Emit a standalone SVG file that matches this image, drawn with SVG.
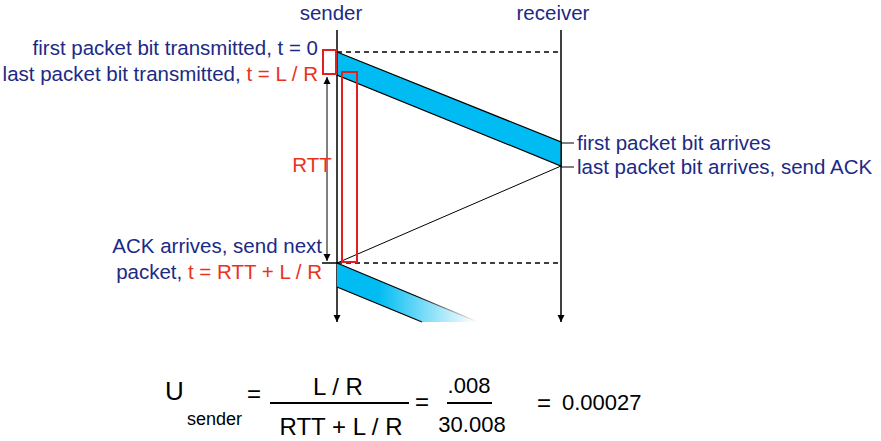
<svg xmlns="http://www.w3.org/2000/svg" width="881" height="441" viewBox="0 0 881 441">
<style>
text{font-family:"Liberation Sans",Arial,sans-serif;}
.lbl{font-size:20.5px;fill:#1c2a85;}
.red{fill:#e8321e;}
.ln{stroke:#000;stroke-width:1.5;fill:none;}
.thin{stroke:#000;stroke-width:1;fill:none;}
.dash{stroke:#000;stroke-width:1.3;stroke-dasharray:5,4;fill:none;}
.box{stroke:#e02020;stroke-width:2;fill:none;}
.fx{font-size:22px;fill:#000;}
.fr{font-size:24px;fill:#000;}
</style>
<defs>
<marker id="ah" viewBox="0 0 10 10" refX="10" refY="5" markerWidth="7" markerHeight="8" markerUnits="userSpaceOnUse" orient="auto-start-reverse"><path d="M0,0 L10,5 L0,10 z" fill="#000"/></marker>
<linearGradient id="fade" gradientUnits="userSpaceOnUse" x1="337" y1="0" x2="475" y2="0"><stop offset="0" stop-color="#00bcf2"/><stop offset="0.3" stop-color="#00bcf2"/><stop offset="1" stop-color="#fff"/></linearGradient>
<linearGradient id="fadeln" gradientUnits="userSpaceOnUse" x1="337" y1="0" x2="478" y2="0"><stop offset="0" stop-color="#000"/><stop offset="0.55" stop-color="#000"/><stop offset="1" stop-color="#fff"/></linearGradient>
</defs>

<g id="sender">
<text class="lbl" x="331" y="20" text-anchor="middle">sender</text>
<line class="ln" x1="337" y1="30" x2="337" y2="322" marker-end="url(#ah)"/>
</g>
<g id="receiver">
<text class="lbl" x="553" y="20" text-anchor="middle">receiver</text>
<line class="ln" x1="561" y1="30" x2="561" y2="322" marker-end="url(#ah)"/>
</g>

<g id="packet1">
<polygon points="337,52 561,142 561,166 337,75" fill="#00bcf2" stroke="#000" stroke-width="1.2"/>
</g>
<g id="packet2">
<polygon points="337,263 478,322 422,322 337,287" fill="url(#fade)"/>
<line x1="337" y1="263" x2="478" y2="322" stroke="url(#fadeln)" stroke-width="1.3"/>
<line x1="337" y1="287" x2="422" y2="322" stroke="url(#fadeln)" stroke-width="1.3"/>
</g>

<g id="connectors">
<line class="dash" x1="337" y1="52" x2="561" y2="52"/>
<line class="dash" x1="337" y1="263" x2="561" y2="263"/>
<line class="thin" x1="561" y1="166" x2="337" y2="263"/>
<line class="thin" x1="327" y1="77" x2="327" y2="261" marker-start="url(#ah)" marker-end="url(#ah)"/>
<line class="ln" x1="322" y1="263" x2="337" y2="263" stroke-width="2"/>
<line class="thin" x1="561" y1="143" x2="574" y2="143"/>
<line class="thin" x1="561" y1="167" x2="574" y2="167"/>
</g>

<g id="highlights">
<rect class="box" x="323" y="50" width="13" height="24"/>
<rect class="box" x="342" y="72" width="15" height="190"/>
</g>

<g id="labels">
<text class="lbl" x="318" y="55" text-anchor="end">first packet bit transmitted, t = 0</text>
<text class="lbl" x="318" y="81" text-anchor="end">last packet bit transmitted, <tspan class="red">t = L / R</tspan></text>
<text class="lbl red" x="312" y="172" text-anchor="middle">RTT</text>
<text class="lbl" x="322" y="253" text-anchor="end">ACK arrives, send next</text>
<text class="lbl" x="322" y="279" text-anchor="end">packet, <tspan class="red">t = RTT + L / R</tspan></text>
<text class="lbl" x="577" y="150">first packet bit arrives</text>
<text class="lbl" x="577" y="174">last packet bit arrives, send ACK</text>
</g>

<g id="formula">
<text x="165" y="400" style="font-size:26px">U</text>
<text x="187" y="425" style="font-size:18px">sender</text>
<text class="fr" x="254" y="402" text-anchor="middle">=</text>
<line x1="270" y1="403" x2="409" y2="403" stroke="#000" stroke-width="2"/>
<text class="fr" x="338" y="395" text-anchor="middle">L / R</text>
<text class="fr" x="341" y="435" text-anchor="middle">RTT + L / R</text>
<text class="fr" x="422" y="410" text-anchor="middle">=</text>
<text class="fx" x="469" y="393" text-anchor="middle">.008</text>
<line x1="447" y1="403" x2="492" y2="403" stroke="#000" stroke-width="2"/>
<text class="fx" x="472" y="432" text-anchor="middle">30.008</text>
<text class="fr" x="544" y="411" text-anchor="middle">=</text>
<text class="fx" x="562" y="410">0.00027</text>
</g>
</svg>
